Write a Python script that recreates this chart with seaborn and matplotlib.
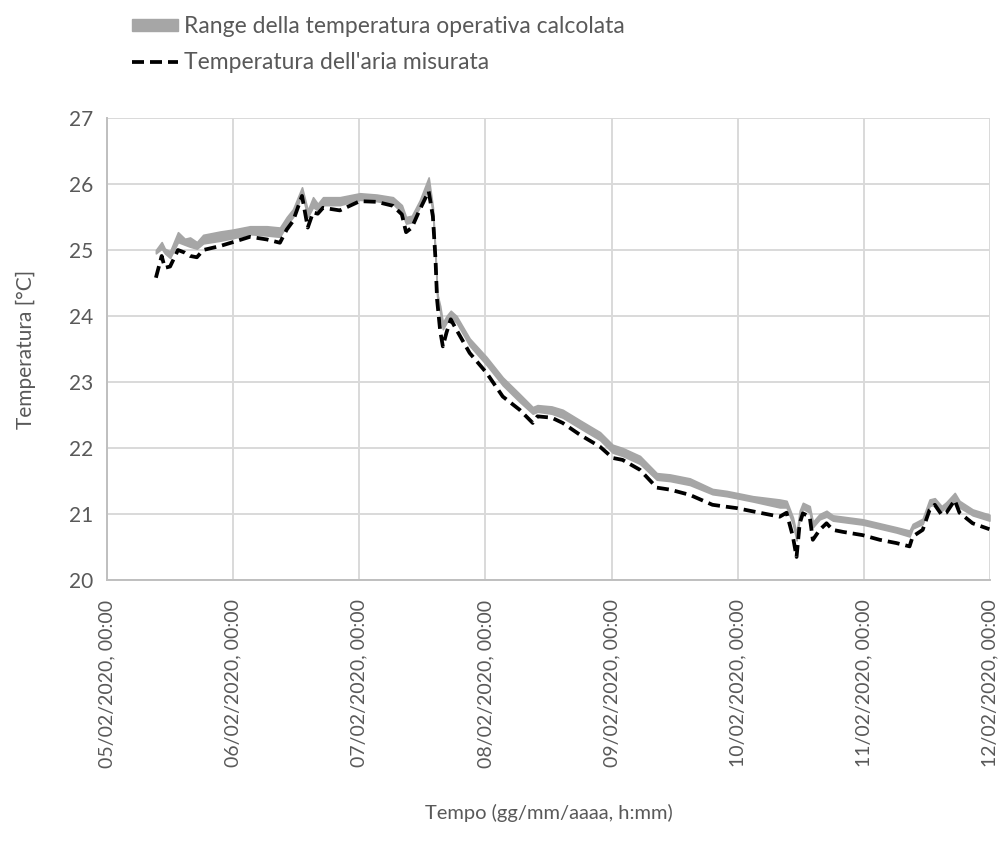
import matplotlib
matplotlib.use("Agg")
import matplotlib.pyplot as plt
from matplotlib.patches import Patch
from matplotlib.lines import Line2D
import pandas as pd
import seaborn as sns

# Hours elapsed since 05/02/2020 00:00
hours = [9.3, 10.4, 11.0, 12.0, 13.5, 14.8, 15.8, 17.1, 18.3, 21.5,
         24.0, 27.2, 30.4, 32.9, 34.2, 35.4, 37.1, 38.2, 39.2, 40.1,
         41.1, 44.3, 48.1, 51.3, 54.4, 56.1, 56.9, 58.0, 59.5, 61.2,
         62.0, 62.5, 62.8, 63.4, 63.9, 64.6, 65.4, 66.5, 69.0, 72.2,
         75.3, 78.5, 81.0, 81.9, 84.6, 86.7, 90.0, 93.8, 96.2, 98.1,
         101.4, 104.6, 107.1, 110.9, 115.2, 117.9, 119.8, 122.9, 128.0, 129.3,
         130.5, 131.2, 131.8, 132.4, 133.7, 134.3, 135.6, 136.9, 138.1, 140.0,
         143.8, 147.0, 150.2, 152.7, 153.3, 155.2, 156.5, 157.5, 158.8, 159.7,
         161.3, 162.2, 164.7, 167.9]

# Measured air temperature [°C]
air_temp = [24.58, 24.91, 24.73, 24.75, 25.00, 24.96, 24.91, 24.89, 25.00, 25.06,
            25.12, 25.20, 25.16, 25.11, 25.31, 25.44, 25.82, 25.34, 25.57, 25.55,
            25.64, 25.60, 25.74, 25.73, 25.67, 25.54, 25.27, 25.34, 25.61, 25.89,
            25.51, 24.86, 24.25, 23.77, 23.54, 23.75, 23.95, 23.79, 23.44, 23.14,
            22.78, 22.58, 22.38, 22.48, 22.46, 22.38, 22.20, 22.02, 21.85, 21.82,
            21.67, 21.40, 21.37, 21.29, 21.14, 21.11, 21.09, 21.04, 20.96, 21.02,
            20.66, 20.35, 20.86, 21.01, 20.96, 20.61, 20.76, 20.86, 20.76, 20.73,
            20.68, 20.61, 20.56, 20.51, 20.66, 20.76, 21.06, 21.14, 20.99, 21.02,
            21.21, 21.02, 20.86, 20.77]

# Calculated operative temperature: lower and upper bound of the range [°C]
op_min = [24.95, 25.02, 24.95, 24.88, 25.12, 25.08, 25.05, 25.02, 25.10, 25.14,
          25.18, 25.24, 25.22, 25.20, 25.38, 25.50, 25.85, 25.50, 25.65, 25.60,
          25.68, 25.68, 25.76, 25.74, 25.70, 25.56, 25.40, 25.42, 25.65, 25.95,
          25.55, 24.90, 24.30, 24.05, 23.80, 23.90, 23.98, 23.90, 23.55, 23.26,
          22.95, 22.70, 22.52, 22.55, 22.52, 22.46, 22.30, 22.12, 21.93, 21.88,
          21.76, 21.52, 21.50, 21.44, 21.30, 21.27, 21.24, 21.19, 21.10, 21.10,
          20.85, 20.60, 20.95, 21.08, 21.02, 20.80, 20.92, 20.96, 20.90, 20.88,
          20.84, 20.78, 20.72, 20.66, 20.78, 20.85, 21.12, 21.15, 21.05, 21.10,
          21.20, 21.10, 20.98, 20.90]
op_max = [25.00, 25.12, 25.02, 24.98, 25.27, 25.17, 25.19, 25.12, 25.23, 25.28,
          25.31, 25.36, 25.36, 25.34, 25.50, 25.62, 25.95, 25.60, 25.80, 25.70,
          25.80, 25.80, 25.86, 25.84, 25.80, 25.68, 25.50, 25.52, 25.75, 26.10,
          25.65, 24.95, 24.35, 24.15, 23.90, 24.00, 24.08, 24.00, 23.66, 23.38,
          23.07, 22.82, 22.62, 22.65, 22.63, 22.58, 22.42, 22.24, 22.05, 22.00,
          21.88, 21.62, 21.60, 21.54, 21.38, 21.35, 21.32, 21.27, 21.22, 21.20,
          20.95, 20.70, 21.05, 21.17, 21.12, 20.88, 21.00, 21.05, 20.98, 20.96,
          20.92, 20.86, 20.80, 20.75, 20.85, 20.93, 21.22, 21.24, 21.12, 21.18,
          21.32, 21.20, 21.07, 20.99]

day_ticks = ["05/02/2020", "06/02/2020", "07/02/2020", "08/02/2020",
             "09/02/2020", "10/02/2020", "11/02/2020", "12/02/2020"]
y_ticks = [20, 21, 22, 23, 24, 25, 26, 27]

start = pd.Timestamp("2020-02-05 00:00")
df = pd.DataFrame({
    "tempo": start + pd.to_timedelta(hours, unit="h"),
    "aria": air_temp,
    "op_min": op_min,
    "op_max": op_max,
})

sns.set_theme(style="white")
plt.rcParams["font.family"] = ["Lato", "DejaVu Sans"]

text_col = "#595959"
grid_col = "#D9D9D9"
band_col = "#A6A6A6"

fig = plt.figure(figsize=(10.03, 8.52), dpi=100)
ax = fig.add_axes([0.1067, 0.3192, 0.8803, 0.5423])

# operative temperature range as a grey band, measured air temperature dashed
ax.fill_between(df["tempo"], df["op_min"], df["op_max"], color=band_col,
                linewidth=1.2, edgecolor=band_col, zorder=2)
sns.lineplot(data=df, x="tempo", y="aria", ax=ax, color="black",
             linewidth=2.7, zorder=3)
ax.lines[-1].set_dashes([3.2, 1.6])

tick_dates = [pd.to_datetime(d, format="%d/%m/%Y") for d in day_ticks]
ax.set_xlim(tick_dates[0], tick_dates[-1])
ax.set_xticks(tick_dates)
ax.set_xticklabels([d + ", 00:00" for d in day_ticks], rotation=90,
                   fontsize=14, color=text_col)
ax.set_ylim(y_ticks[0], y_ticks[-1])
ax.set_yticks(y_ticks)
ax.set_yticklabels([str(v) for v in y_ticks], fontsize=15, color=text_col)
ax.tick_params(axis="x", length=0, pad=14)
ax.tick_params(axis="y", length=0, pad=10)

ax.grid(True, color=grid_col, linewidth=1.4, zorder=0)
ax.set_axisbelow(True)
for side in ["top", "right"]:
    ax.spines[side].set_visible(False)
for side in ["left", "bottom"]:
    ax.spines[side].set_color("#BFBFBF")
    ax.spines[side].set_linewidth(1.4)

ax.set_xlabel("Tempo (gg/mm/aaaa, h:mm)", fontsize=14.5, color=text_col,
              labelpad=26)
ax.set_ylabel("Temperatura [°C]", fontsize=15, color=text_col, labelpad=24)

handles = [Patch(facecolor=band_col, edgecolor=band_col),
           Line2D([0], [0], color="black", linewidth=2.7, dashes=[3.2, 1.6])]
labels = ["Range della temperatura operativa calcolata",
          "Temperatura dell'aria misurata"]
leg = fig.legend(handles, labels, loc="upper left",
                 bbox_to_anchor=(0.111, 1.005), frameon=False, fontsize=16.5,
                 handlelength=2.0, handleheight=0.4, labelspacing=0.65,
                 handletextpad=0.25)
for t in leg.get_texts():
    t.set_color(text_col)

fig.savefig("out.png", dpi=100)
